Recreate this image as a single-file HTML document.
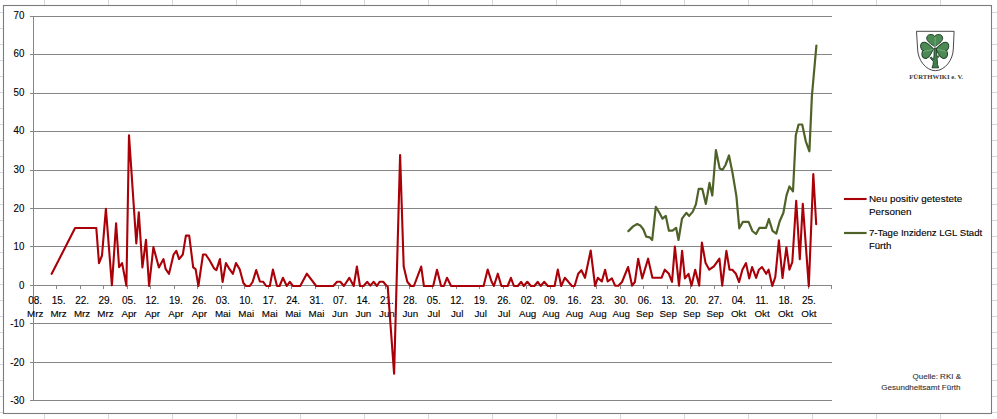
<!DOCTYPE html>
<html><head><meta charset="utf-8"><style>
html,body{margin:0;padding:0;background:#fff;width:997px;height:419px;overflow:hidden}
svg{display:block}
text{font-family:"Liberation Sans",sans-serif;}
.t{fill:#000;stroke:#000;stroke-width:0.12px}
</style></head><body>
<svg width="997" height="419" viewBox="0 0 997 419">

<path d="M44.5 0V419 M108.5 0V419 M172.5 0V419 M236.5 0V419 M300.5 0V419 M364.5 0V419 M428.5 0V419 M492.5 0V419 M556.5 0V419 M620.5 0V419 M684.5 0V419 M748.5 0V419 M812.5 0V419 M876.5 0V419 M940.5 0V419 M0 12.5H997 M0 28.5H997 M0 44.5H997 M0 60.5H997 M0 76.5H997 M0 92.5H997 M0 108.5H997 M0 124.5H997 M0 140.5H997 M0 156.5H997 M0 172.5H997 M0 188.5H997 M0 204.5H997 M0 220.5H997 M0 236.5H997 M0 252.5H997 M0 268.5H997 M0 284.5H997 M0 300.5H997 M0 316.5H997 M0 332.5H997 M0 348.5H997 M0 364.5H997 M0 380.5H997 M0 396.5H997 M0 412.5H997" stroke="#d6d6de" stroke-width="1" fill="none"/>
<rect x="3.5" y="5.5" width="988" height="408" fill="#fff" stroke="#7c7c7c" stroke-width="1.1"/>
<path d="M30 16.5H832 M30 54.5H832 M30 93.5H832 M30 131.5H832 M30 170.5H832 M30 208.5H832 M30 246.5H832 M30 285.5H832 M30 323.5H832 M30 362.5H832 M30 400.5H832" stroke="#868686" stroke-width="1" fill="none"/>
<path d="M33.5 16V401" stroke="#868686" stroke-width="1" fill="none"/>
<path d="M33.5 285V289 M56.5 285V289 M80.5 285V289 M103.5 285V289 M127.5 285V289 M150.5 285V289 M174.5 285V289 M197.5 285V289 M221.5 285V289 M244.5 285V289 M268.5 285V289 M291.5 285V289 M315.5 285V289 M338.5 285V289 M362.5 285V289 M385.5 285V289 M409.5 285V289 M432.5 285V289 M456.5 285V289 M479.5 285V289 M503.5 285V289 M526.5 285V289 M550.5 285V289 M573.5 285V289 M596.5 285V289 M620.5 285V289 M643.5 285V289 M667.5 285V289 M690.5 285V289 M714.5 285V289 M737.5 285V289 M761.5 285V289 M784.5 285V289 M808.5 285V289 M831.5 285V289" stroke="#868686" stroke-width="1" fill="none"/>
<text transform="translate(24.4,18.8) scale(0.93,1)" font-size="10.5" text-anchor="end" class="t">70</text>
<text transform="translate(24.4,57.3) scale(0.93,1)" font-size="10.5" text-anchor="end" class="t">60</text>
<text transform="translate(24.4,95.9) scale(0.93,1)" font-size="10.5" text-anchor="end" class="t">50</text>
<text transform="translate(24.4,134.4) scale(0.93,1)" font-size="10.5" text-anchor="end" class="t">40</text>
<text transform="translate(24.4,172.9) scale(0.93,1)" font-size="10.5" text-anchor="end" class="t">30</text>
<text transform="translate(24.4,211.5) scale(0.93,1)" font-size="10.5" text-anchor="end" class="t">20</text>
<text transform="translate(24.4,250.0) scale(0.93,1)" font-size="10.5" text-anchor="end" class="t">10</text>
<text transform="translate(24.4,288.5) scale(0.93,1)" font-size="10.5" text-anchor="end" class="t">0</text>
<text transform="translate(24.4,327.0) scale(0.93,1)" font-size="10.5" text-anchor="end" class="t">-10</text>
<text transform="translate(24.4,365.6) scale(0.93,1)" font-size="10.5" text-anchor="end" class="t">-20</text>
<text transform="translate(24.4,404.1) scale(0.93,1)" font-size="10.5" text-anchor="end" class="t">-30</text>
<text x="35.2" y="304.1" font-size="10" text-anchor="middle" class="t">08.</text>
<text x="35.2" y="316.9" font-size="9.8" text-anchor="middle" class="t">Mrz</text>
<text x="58.6" y="304.1" font-size="10" text-anchor="middle" class="t">15.</text>
<text x="58.6" y="316.9" font-size="9.8" text-anchor="middle" class="t">Mrz</text>
<text x="82.1" y="304.1" font-size="10" text-anchor="middle" class="t">22.</text>
<text x="82.1" y="316.9" font-size="9.8" text-anchor="middle" class="t">Mrz</text>
<text x="105.5" y="304.1" font-size="10" text-anchor="middle" class="t">29.</text>
<text x="105.5" y="316.9" font-size="9.8" text-anchor="middle" class="t">Mrz</text>
<text x="129.0" y="304.1" font-size="10" text-anchor="middle" class="t">05.</text>
<text x="129.0" y="316.9" font-size="9.8" text-anchor="middle" class="t">Apr</text>
<text x="152.4" y="304.1" font-size="10" text-anchor="middle" class="t">12.</text>
<text x="152.4" y="316.9" font-size="9.8" text-anchor="middle" class="t">Apr</text>
<text x="175.9" y="304.1" font-size="10" text-anchor="middle" class="t">19.</text>
<text x="175.9" y="316.9" font-size="9.8" text-anchor="middle" class="t">Apr</text>
<text x="199.3" y="304.1" font-size="10" text-anchor="middle" class="t">26.</text>
<text x="199.3" y="316.9" font-size="9.8" text-anchor="middle" class="t">Apr</text>
<text x="222.8" y="304.1" font-size="10" text-anchor="middle" class="t">03.</text>
<text x="222.8" y="316.9" font-size="9.8" text-anchor="middle" class="t">Mai</text>
<text x="246.2" y="304.1" font-size="10" text-anchor="middle" class="t">10.</text>
<text x="246.2" y="316.9" font-size="9.8" text-anchor="middle" class="t">Mai</text>
<text x="269.7" y="304.1" font-size="10" text-anchor="middle" class="t">17.</text>
<text x="269.7" y="316.9" font-size="9.8" text-anchor="middle" class="t">Mai</text>
<text x="293.1" y="304.1" font-size="10" text-anchor="middle" class="t">24.</text>
<text x="293.1" y="316.9" font-size="9.8" text-anchor="middle" class="t">Mai</text>
<text x="316.5" y="304.1" font-size="10" text-anchor="middle" class="t">31.</text>
<text x="316.5" y="316.9" font-size="9.8" text-anchor="middle" class="t">Mai</text>
<text x="340.0" y="304.1" font-size="10" text-anchor="middle" class="t">07.</text>
<text x="340.0" y="316.9" font-size="9.8" text-anchor="middle" class="t">Jun</text>
<text x="363.4" y="304.1" font-size="10" text-anchor="middle" class="t">14.</text>
<text x="363.4" y="316.9" font-size="9.8" text-anchor="middle" class="t">Jun</text>
<text x="386.9" y="304.1" font-size="10" text-anchor="middle" class="t">21.</text>
<text x="386.9" y="316.9" font-size="9.8" text-anchor="middle" class="t">Jun</text>
<text x="410.3" y="304.1" font-size="10" text-anchor="middle" class="t">28.</text>
<text x="410.3" y="316.9" font-size="9.8" text-anchor="middle" class="t">Jun</text>
<text x="433.8" y="304.1" font-size="10" text-anchor="middle" class="t">05.</text>
<text x="433.8" y="316.9" font-size="9.8" text-anchor="middle" class="t">Jul</text>
<text x="457.2" y="304.1" font-size="10" text-anchor="middle" class="t">12.</text>
<text x="457.2" y="316.9" font-size="9.8" text-anchor="middle" class="t">Jul</text>
<text x="480.7" y="304.1" font-size="10" text-anchor="middle" class="t">19.</text>
<text x="480.7" y="316.9" font-size="9.8" text-anchor="middle" class="t">Jul</text>
<text x="504.1" y="304.1" font-size="10" text-anchor="middle" class="t">26.</text>
<text x="504.1" y="316.9" font-size="9.8" text-anchor="middle" class="t">Jul</text>
<text x="527.6" y="304.1" font-size="10" text-anchor="middle" class="t">02.</text>
<text x="527.6" y="316.9" font-size="9.8" text-anchor="middle" class="t">Aug</text>
<text x="551.0" y="304.1" font-size="10" text-anchor="middle" class="t">09.</text>
<text x="551.0" y="316.9" font-size="9.8" text-anchor="middle" class="t">Aug</text>
<text x="574.5" y="304.1" font-size="10" text-anchor="middle" class="t">16.</text>
<text x="574.5" y="316.9" font-size="9.8" text-anchor="middle" class="t">Aug</text>
<text x="597.9" y="304.1" font-size="10" text-anchor="middle" class="t">23.</text>
<text x="597.9" y="316.9" font-size="9.8" text-anchor="middle" class="t">Aug</text>
<text x="621.3" y="304.1" font-size="10" text-anchor="middle" class="t">30.</text>
<text x="621.3" y="316.9" font-size="9.8" text-anchor="middle" class="t">Aug</text>
<text x="644.8" y="304.1" font-size="10" text-anchor="middle" class="t">06.</text>
<text x="644.8" y="316.9" font-size="9.8" text-anchor="middle" class="t">Sep</text>
<text x="668.2" y="304.1" font-size="10" text-anchor="middle" class="t">13.</text>
<text x="668.2" y="316.9" font-size="9.8" text-anchor="middle" class="t">Sep</text>
<text x="691.7" y="304.1" font-size="10" text-anchor="middle" class="t">20.</text>
<text x="691.7" y="316.9" font-size="9.8" text-anchor="middle" class="t">Sep</text>
<text x="715.1" y="304.1" font-size="10" text-anchor="middle" class="t">27.</text>
<text x="715.1" y="316.9" font-size="9.8" text-anchor="middle" class="t">Sep</text>
<text x="738.6" y="304.1" font-size="10" text-anchor="middle" class="t">04.</text>
<text x="738.6" y="316.9" font-size="9.8" text-anchor="middle" class="t">Okt</text>
<text x="762.0" y="304.1" font-size="10" text-anchor="middle" class="t">11.</text>
<text x="762.0" y="316.9" font-size="9.8" text-anchor="middle" class="t">Okt</text>
<text x="785.5" y="304.1" font-size="10" text-anchor="middle" class="t">18.</text>
<text x="785.5" y="316.9" font-size="9.8" text-anchor="middle" class="t">Okt</text>
<text x="808.9" y="304.1" font-size="10" text-anchor="middle" class="t">25.</text>
<text x="808.9" y="316.9" font-size="9.8" text-anchor="middle" class="t">Okt</text>
<polyline points="628.4,231.1 633.1,226.4 637.2,224.0 640.3,225.4 643.4,229.5 646.2,236.6 649.8,237.4 652.2,240.0 655.8,206.8 659.4,212.8 662.5,218.7 665.8,215.9 668.9,230.7 672.5,230.7 676.1,227.8 678.5,240.0 682.0,218.7 686.3,212.8 689.2,215.9 692.8,211.6 695.9,204.4 698.7,188.9 702.3,188.9 705.9,203.9 709.5,182.9 712.3,195.4 715.9,150.0 719.7,168.6 722.6,169.8 725.5,165.0 729.0,155.5 732.6,173.4 736.4,196.1 739.3,228.3 742.9,221.9 748.6,221.9 752.4,231.0 756.0,234.0 759.3,227.9 766.0,227.9 768.9,219.0 772.5,230.8 776.3,233.6 779.6,221.5 783.4,212.8 786.5,195.4 789.4,186.5 793.0,191.3 795.8,135.3 798.6,124.5 802.2,124.5 805.8,141.3 809.4,151.3 811.9,96.0 816.4,45.5" fill="none" stroke="#4f6228" stroke-width="2.2" stroke-linejoin="round" stroke-linecap="round"/>
<polyline points="51.7,273.8 75.1,228.0 96.3,228.0 99.0,263.2 102.0,255.5 105.9,208.9 111.9,285.3 116.1,223.3 119.1,267.2 122.1,263.1 126.4,285.8 129.0,135.2 136.3,243.5 138.8,212.3 142.4,267.4 146.0,239.8 149.1,286.0 153.4,247.1 158.9,267.4 163.5,259.1 165.7,269.2 169.0,273.8 173.6,254.5 176.3,250.8 179.1,259.1 182.8,254.5 185.9,235.6 189.2,235.6 193.2,267.4 195.6,269.2 198.4,286.0 203.0,254.5 205.7,254.5 209.4,260.0 214.0,268.3 216.4,270.1 219.9,259.1 222.6,282.0 225.9,263.1 229.6,269.2 232.9,273.8 236.0,263.1 239.7,269.2 243.4,283.0 246.1,286.0 249.8,286.0 252.6,282.0 256.2,270.1 259.9,281.5 263.2,281.8 266.2,286.0 269.8,286.0 272.9,269.6 277.0,286.0 279.6,286.0 282.9,277.8 286.8,286.0 289.8,281.8 293.0,286.0 300.2,286.0 306.8,273.7 316.2,286.0 333.2,286.0 337.1,281.8 340.3,281.8 343.9,286.0 349.3,277.8 353.7,286.0 356.9,266.6 360.0,286.0 363.6,286.0 367.1,281.8 370.3,285.6 373.7,281.8 376.9,286.0 379.6,281.8 383.2,281.8 386.4,285.6 387.7,286.3 394.1,373.6 400.1,155.0 403.7,266.6 407.3,281.8 410.9,286.0 413.9,286.0 421.2,266.6 423.9,286.0 433.2,286.0 437.0,269.8 441.1,286.0 443.9,286.0 447.0,277.8 451.1,286.0 483.6,286.0 487.7,269.6 491.6,281.8 493.9,286.0 497.8,273.7 501.4,286.0 507.7,286.0 510.9,277.8 513.9,286.0 517.8,286.0 521.1,281.8 523.7,286.0 527.3,281.8 530.9,286.0 534.4,286.0 537.7,281.8 540.7,286.0 544.3,281.8 547.8,286.0 554.6,286.0 557.8,269.6 561.2,286.0 564.8,277.8 568.4,281.8 571.9,286.0 574.6,286.0 578.2,273.7 581.4,270.2 585.0,277.8 590.7,250.5 595.1,286.0 597.8,277.8 601.8,281.5 605.1,269.7 607.7,281.5 611.9,278.4 615.1,285.7 618.4,285.7 622.0,282.0 628.1,267.0 632.1,285.7 634.9,282.0 638.2,258.7 642.2,278.4 648.1,258.7 652.4,277.8 661.5,277.8 664.8,269.7 668.9,273.8 672.0,282.0 674.9,246.6 679.0,285.7 682.1,250.8 684.9,278.4 688.5,273.8 691.5,285.7 695.2,269.7 699.2,285.7 701.9,242.6 705.6,263.1 709.3,269.7 713.9,266.4 719.4,258.7 722.2,285.7 726.4,250.8 729.5,269.7 732.3,269.7 735.9,273.8 739.1,282.0 742.4,269.7 746.0,263.1 749.2,278.4 752.1,267.0 756.1,277.8 758.9,269.7 762.0,267.0 766.2,273.8 768.6,269.7 772.3,285.9 775.3,277.0 778.9,240.3 782.5,278.0 786.4,247.2 789.4,269.6 792.3,262.1 796.2,200.9 799.8,259.1 802.8,203.8 808.8,286.3 813.3,174.0 816.2,224.2" fill="none" stroke="#aa0008" stroke-width="2.1" stroke-linejoin="round" stroke-linecap="round"/>
<path d="M844 199H866.6" stroke="#aa0008" stroke-width="2.1"/>
<path d="M844 233H866.6" stroke="#4f6228" stroke-width="2.2"/>
<text x="868.9" y="201.8" font-size="9.9" class="t" letter-spacing="0.06">Neu positiv getestete</text>
<text x="868.9" y="215.2" font-size="9.9" class="t" letter-spacing="0.06">Personen</text>
<text x="868.9" y="236" font-size="9.6" class="t">7-Tage Inzidenz LGL Stadt</text>
<text x="868.9" y="249" font-size="9.6" class="t">Fürth</text>
<text x="961" y="379" font-size="8" text-anchor="end" fill="#333" stroke="#333" stroke-width="0.12">Quelle: RKI &amp;</text>
<text x="960.5" y="390" font-size="8" text-anchor="end" fill="#333" stroke="#333" stroke-width="0.12">Gesundheitsamt Fürth</text>
<path d="M916.5 31.3H954.1L953.3 49C953 60 945 70.5 935.4 70.7C925.8 70.5 917.8 60 917.6 49Z" fill="#fff" stroke="#333" stroke-width="0.9"/>
<g fill="#4b8a53" stroke="#22402a" stroke-width="0.95">
<path transform="translate(934.7,46.6) scale(1,0.97)" d="M0,0 C-3.5,-2.5 -8,-5 -8,-8.8 C-8,-11.8 -5.2,-12.9 -2.8,-12.4 C-1.2,-12.1 -0.3,-11.2 0,-10.4 C0.3,-11.2 1.2,-12.1 2.8,-12.4 C5.2,-12.9 8,-11.8 8,-8.8 C8,-5 3.5,-2.5 0,0Z"/>
<path transform="translate(933.4,49) rotate(-99) scale(1.02,0.98)" d="M0,0 C-3.5,-2.5 -8,-5 -8,-8.8 C-8,-11.8 -5.2,-12.9 -2.8,-12.4 C-1.2,-12.1 -0.3,-11.2 0,-10.4 C0.3,-11.2 1.2,-12.1 2.8,-12.4 C5.2,-12.9 8,-11.8 8,-8.8 C8,-5 3.5,-2.5 0,0Z"/>
<path transform="translate(936,49) rotate(99) scale(1.02,0.98)" d="M0,0 C-3.5,-2.5 -8,-5 -8,-8.8 C-8,-11.8 -5.2,-12.9 -2.8,-12.4 C-1.2,-12.1 -0.3,-11.2 0,-10.4 C0.3,-11.2 1.2,-12.1 2.8,-12.4 C5.2,-12.9 8,-11.8 8,-8.8 C8,-5 3.5,-2.5 0,0Z"/>
<path d="M934.2 48L936.4 48L936.8 56.5L938.5 55.8L938.9 56.6L937.1 58.6L937.5 64.5L938.6 67.8L932 67.8L933.1 64.5L933.4 61.6L930.1 57.8L931 56.9L933.6 59.3L934 56Z" fill="#3f7f4a"/>
</g>
<path d="M935.2 37V48M923 51.5L933 49.5M947 51.5L937.5 49.5" stroke="#d8ead9" stroke-width="0.6" fill="none" opacity="0.55"/>
<text x="909.2" y="78.9" font-size="6.9" textLength="54" lengthAdjust="spacingAndGlyphs" fill="#3a3a3a" font-weight="bold" style="font-family:'Liberation Serif',serif">FÜRTHWIKI e. V.</text>
</svg></body></html>
